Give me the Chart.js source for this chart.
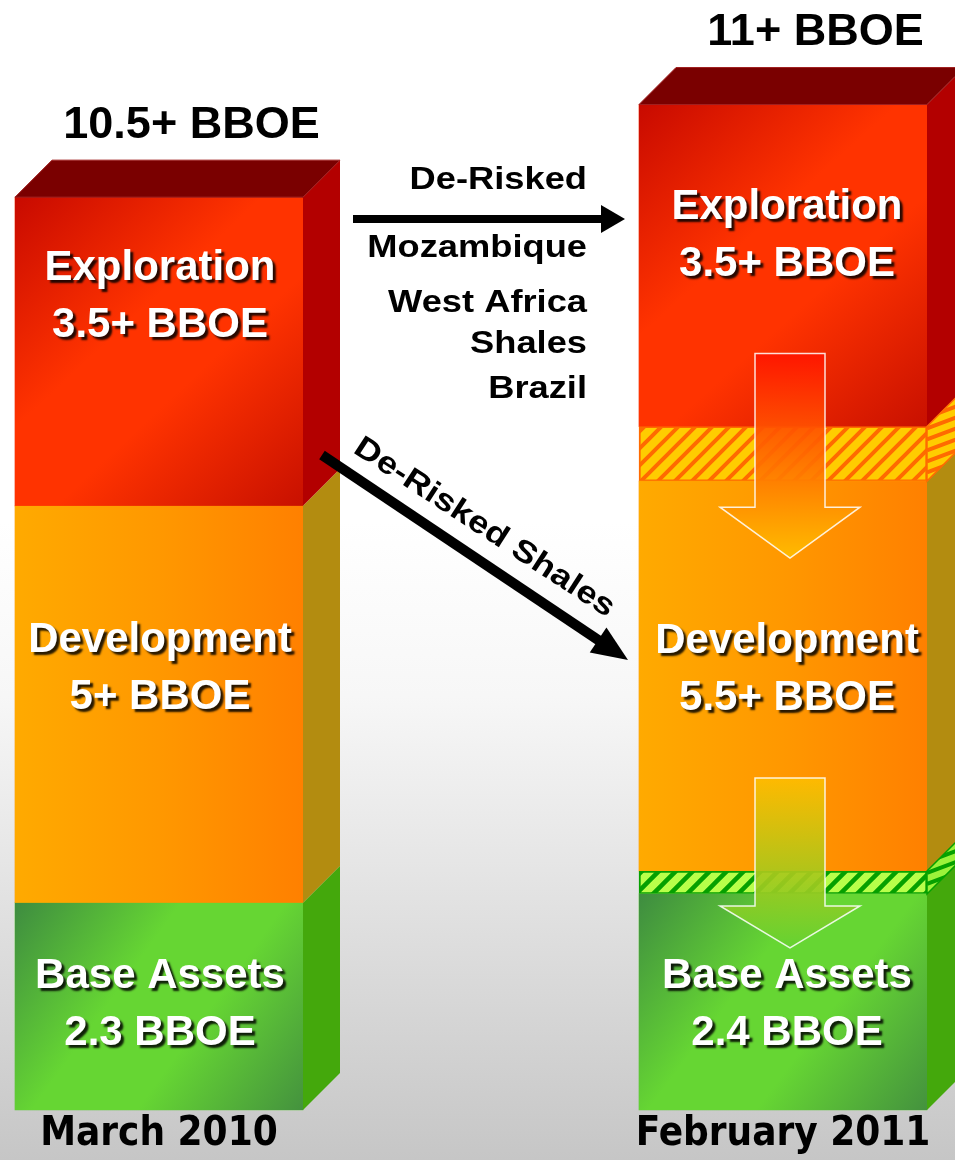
<!DOCTYPE html>
<html><head><meta charset="utf-8">
<script src="https://cdn.jsdelivr.net/npm/chart.js@4.4.1/dist/chart.umd.min.js"></script>
<style>html,body{margin:0;padding:0;background:#fff;}canvas{display:block;}</style>
</head><body>
<canvas id="c" width="955" height="1160"></canvas>
<script>
// ---- data (BBOE, heights) ----
const periods = ['March 2010', 'February 2011'];
const baseAssets = [2.35, 2.45];
const baseDeRisked = [null, 0.26];
const development = [4.5, 4.42];
const devDeRisked = [null, 0.62];
const exploration = [3.5, 3.65];
const totalLabels = ['10.5+ BBOE', '11+ BBOE'];
const explorationLabels = ['3.5+ BBOE', '3.5+ BBOE'];
const developmentLabels = ['5+ BBOE', '5.5+ BBOE'];
const baseLabels = ['2.3 BBOE', '2.4 BBOE'];
const deRiskedHeading = 'De-Risked';
const deRiskedList = ['Mozambique', 'West Africa', 'Shales', 'Brazil'];
const deRiskedShales = 'De-Risked Shales';

// ---- styling / layout ----
const DEPTH = 37;
const Y_MAX = 12.585;
const LABEL_FONT = "bold 42px 'Liberation Sans', Arial, sans-serif";
const TOTAL_FONT = "bold 45px 'Liberation Sans', Arial, sans-serif";
const NOTE_FONT = "bold 31px 'Liberation Sans', Arial, sans-serif";
const NOTE_STRETCH = 1.17;
const labelFirstLine = { exploration: [71, 103], development: [135, 160], base: [74, 83] };
const LINE_GAP = 57;

function makeHatch(bg, fg, s, lw) {
  const c = document.createElement('canvas');
  c.width = s; c.height = s;
  const x = c.getContext('2d');
  x.fillStyle = bg; x.fillRect(0, 0, s, s);
  x.strokeStyle = fg; x.lineWidth = lw; x.lineCap = 'square';
  x.beginPath();
  x.moveTo(-s, 2 * s); x.lineTo(2 * s, -s);
  x.moveTo(-s, s); x.lineTo(s, -s);
  x.moveTo(0, 2 * s); x.lineTo(2 * s, 0);
  x.stroke();
  return x.createPattern(c, 'repeat');
}
const yellowHatch = makeHatch('#ffcc00', '#ff6a00', 17, 4);
const greenHatch = makeHatch('#b8ff4a', '#06a000', 17, 4.5);

const bgPlugin = {
  id: 'bg',
  beforeDraw(chart) {
    const { ctx, width, height } = chart;
    const g = ctx.createLinearGradient(0, 0, 0, height);
    g.addColorStop(0, '#ffffff');
    g.addColorStop(0.45, '#ffffff');
    g.addColorStop(0.6, '#f7f7f7');
    g.addColorStop(0.75, '#e5e5e5');
    g.addColorStop(1, '#c6c6c6');
    ctx.save(); ctx.fillStyle = g; ctx.fillRect(0, 0, width, height); ctx.restore();
  }
};

function frontFill(ctx, r, kind) {
  let g;
  if (kind === 'development') {
    g = ctx.createLinearGradient(r.x0, 0, r.x1, 0);
    g.addColorStop(0, '#ffaa00'); g.addColorStop(0.5, '#ff9800'); g.addColorStop(1, '#ff8000');
  } else if (kind === 'exploration') {
    g = ctx.createLinearGradient(r.x0, r.y0, r.x1, r.y1);
    g.addColorStop(0, '#c80a00'); g.addColorStop(0.4, '#ff3300'); g.addColorStop(0.6, '#ff3300'); g.addColorStop(1, '#c81000');
  } else {
    g = ctx.createLinearGradient(r.x0, r.y0, r.x1, r.y1);
    g.addColorStop(0, '#3e8c40'); g.addColorStop(0.38, '#66d633'); g.addColorStop(0.62, '#66d633'); g.addColorStop(1, '#44923e');
  }
  ctx.fillStyle = g;
  ctx.fillRect(r.x0, r.y0, r.x1 - r.x0, r.y1 - r.y0);
}

function sidePath(ctx, r) {
  ctx.beginPath();
  ctx.moveTo(r.x1, r.y0); ctx.lineTo(r.x1 + DEPTH, r.y0 - DEPTH);
  ctx.lineTo(r.x1 + DEPTH, r.y1 - DEPTH); ctx.lineTo(r.x1, r.y1); ctx.closePath();
}

function hatchSide(ctx, r, bg, fg, border) {
  ctx.save();
  sidePath(ctx, r);
  ctx.fillStyle = bg; ctx.fill();
  ctx.clip();
  ctx.strokeStyle = fg; ctx.lineWidth = 4;
  ctx.beginPath();
  for (let y = r.y0 - DEPTH - 60; y < r.y1 + 60; y += 11) {
    ctx.moveTo(r.x1, y); ctx.lineTo(r.x1 + DEPTH, y - 14);
  }
  ctx.stroke();
  ctx.restore();
  ctx.save(); sidePath(ctx, r); ctx.strokeStyle = border; ctx.lineWidth = 1.5; ctx.stroke(); ctx.restore();
}

function downArrow(ctx, cx, top, headY, tip, c0, c1) {
  const sw = 35, hw = 70;
  ctx.save();
  ctx.beginPath();
  ctx.moveTo(cx - sw, top); ctx.lineTo(cx + sw, top); ctx.lineTo(cx + sw, headY);
  ctx.lineTo(cx + hw, headY); ctx.lineTo(cx, tip); ctx.lineTo(cx - hw, headY);
  ctx.lineTo(cx - sw, headY); ctx.closePath();
  const g = ctx.createLinearGradient(0, top, 0, tip);
  g.addColorStop(0, c0); g.addColorStop(1, c1);
  ctx.fillStyle = g; ctx.fill();
  ctx.strokeStyle = 'rgba(255,255,255,0.85)'; ctx.lineWidth = 1.5; ctx.stroke();
  ctx.restore();
}

function lineArrow(ctx, x0, y0, x1, y1, w, hl, hw) {
  const a = Math.atan2(y1 - y0, x1 - x0);
  const len = Math.hypot(x1 - x0, y1 - y0);
  ctx.save();
  ctx.translate(x0, y0); ctx.rotate(a);
  ctx.fillStyle = '#000';
  ctx.fillRect(0, -w / 2, len - hl + 1, w);
  ctx.beginPath(); ctx.moveTo(len, 0); ctx.lineTo(len - hl, -hw); ctx.lineTo(len - hl, hw); ctx.closePath(); ctx.fill();
  ctx.restore();
}

function whiteText(ctx, text, x, y) {
  ctx.save();
  ctx.font = LABEL_FONT; ctx.textAlign = 'center'; ctx.textBaseline = 'middle';
  ctx.shadowColor = 'rgba(0,0,0,0.85)'; ctx.shadowOffsetX = 3; ctx.shadowOffsetY = 3; ctx.shadowBlur = 2;
  ctx.fillStyle = '#ffffff';
  ctx.fillText(text, x, y);
  ctx.restore();
}

function noteText(ctx, text, x, y, angle, align) {
  ctx.save();
  ctx.translate(x, y); ctx.rotate(angle); ctx.scale(NOTE_STRETCH, 1);
  ctx.font = NOTE_FONT; ctx.fillStyle = '#000'; ctx.textAlign = align; ctx.textBaseline = 'alphabetic';
  ctx.fillText(text, 0, 0);
  ctx.restore();
}

const depthPlugin = {
  id: 'depth',
  afterDatasetsDraw(chart) {
    const ctx = chart.ctx;
    const rect = (di, i) => {
      const v = chart.data.datasets[di].data[i];
      if (v == null) return null;
      const el = chart.getDatasetMeta(di).data[i];
      const p = el.getProps(['x', 'y', 'base', 'width'], true);
      return { x0: p.x - p.width / 2, x1: p.x + p.width / 2, y0: Math.min(p.y, p.base), y1: Math.max(p.y, p.base), cx: p.x };
    };
    ctx.save();
    for (let i = 0; i < periods.length; i++) {
      const rb = rect(0, i), rbh = rect(1, i), rd = rect(2, i), rdh = rect(3, i), re = rect(4, i);
      frontFill(ctx, rb, 'base');
      frontFill(ctx, rd, 'development');
      frontFill(ctx, re, 'exploration');
      sidePath(ctx, rb); ctx.fillStyle = '#44a80c'; ctx.fill();
      sidePath(ctx, rd); ctx.fillStyle = '#b38c10'; ctx.fill();
      sidePath(ctx, re); ctx.fillStyle = '#b30000'; ctx.fill();
      if (rbh) hatchSide(ctx, rbh, '#9cf23a', '#06a000', '#06a000');
      if (rdh) hatchSide(ctx, rdh, '#ffcc00', '#ff6a00', '#ff6a00');
      ctx.beginPath();
      ctx.moveTo(re.x0, re.y0); ctx.lineTo(re.x0 + DEPTH, re.y0 - DEPTH);
      ctx.lineTo(re.x1 + DEPTH, re.y0 - DEPTH); ctx.lineTo(re.x1, re.y0); ctx.closePath();
      ctx.fillStyle = '#7a0000'; ctx.fill();
      ctx.strokeStyle = '#a02020'; ctx.lineWidth = 1; ctx.stroke();
      if (rdh) downArrow(ctx, rdh.cx + 7, rdh.y0 - 73, rdh.y1 + 26, rdh.y1 + 77, 'rgba(255,20,0,0.92)', 'rgba(255,190,0,0.92)');
      if (rbh) downArrow(ctx, rbh.cx + 7, rbh.y0 - 93, rbh.y1 + 12, rbh.y1 + 54, 'rgba(255,188,0,0.92)', 'rgba(100,210,50,0.92)');
      const lx = rb.cx + (i === 0 ? 1 : 4);
      const ey = re.y0 + labelFirstLine.exploration[i];
      whiteText(ctx, 'Exploration', lx, ey); whiteText(ctx, explorationLabels[i], lx, ey + LINE_GAP);
      const dTop = rdh ? rdh.y1 : rd.y0;
      const dy = dTop + labelFirstLine.development[i];
      whiteText(ctx, 'Development', lx, dy); whiteText(ctx, developmentLabels[i], lx, dy + LINE_GAP);
      const by = rb.y0 + labelFirstLine.base[i];
      whiteText(ctx, 'Base Assets', lx, by); whiteText(ctx, baseLabels[i], lx, by + LINE_GAP);
      ctx.save();
      ctx.font = TOTAL_FONT; ctx.textAlign = 'center'; ctx.textBaseline = 'middle'; ctx.fillStyle = '#000';
      ctx.fillText(totalLabels[i], rb.cx + DEPTH / 2 + 14, re.y0 - DEPTH - 35);
      ctx.restore();
    }
    const L = rect(4, 0), R = rect(4, 1);
    const noteX = R.x0 - 52;
    noteText(ctx, deRiskedHeading, noteX, 189, 0, 'right');
    lineArrow(ctx, L.x1 + DEPTH + 13, 219, R.x0 - 14, 219, 8, 24, 14);
    const noteY = [257, 312, 353, 398];
    deRiskedList.forEach((t, k) => noteText(ctx, t, noteX, noteY[k], 0, 'right'));
    lineArrow(ctx, L.x1 + 19, 455, R.x0 - 11, 660, 10, 36, 15);
    noteText(ctx, deRiskedShales, 352, 452, 33 * Math.PI / 180, 'left');
    ctx.restore();
  }
};

new Chart(document.getElementById('c'), {
  type: 'bar',
  data: {
    labels: periods,
    datasets: [
      { label: 'Base Assets', data: baseAssets, backgroundColor: '#5cc83a' },
      { label: 'De-Risked to Base', data: baseDeRisked, backgroundColor: greenHatch, borderColor: '#06a000', borderWidth: 2, borderSkipped: false },
      { label: 'Development', data: development, backgroundColor: '#ff9a00' },
      { label: 'De-Risked to Development', data: devDeRisked, backgroundColor: yellowHatch, borderColor: '#ff6a00', borderWidth: 2, borderSkipped: false },
      { label: 'Exploration', data: exploration, backgroundColor: '#f02a00' }
    ]
  },
  options: {
    responsive: false, animation: false, devicePixelRatio: 1,
    layout: { padding: { left: 159, right: 172, top: 0, bottom: 0 } },
    plugins: { legend: { display: false }, tooltip: { enabled: false } },
    datasets: { bar: { barThickness: 288, clip: false, borderWidth: 0 } },
    scales: {
      x: {
        stacked: true, offset: false,
        grid: { display: false, drawTicks: false }, border: { display: false },
        ticks: { padding: 0, maxRotation: 0, autoSkip: false, color: '#000',
          font: { family: "'DejaVu Sans Condensed', 'Liberation Sans Narrow', sans-serif", size: 40, weight: 'bold', lineHeight: 1.25 } }
      },
      y: { stacked: true, display: false, min: 0, max: Y_MAX }
    }
  },
  plugins: [bgPlugin, depthPlugin]
});
</script>
</body></html>
